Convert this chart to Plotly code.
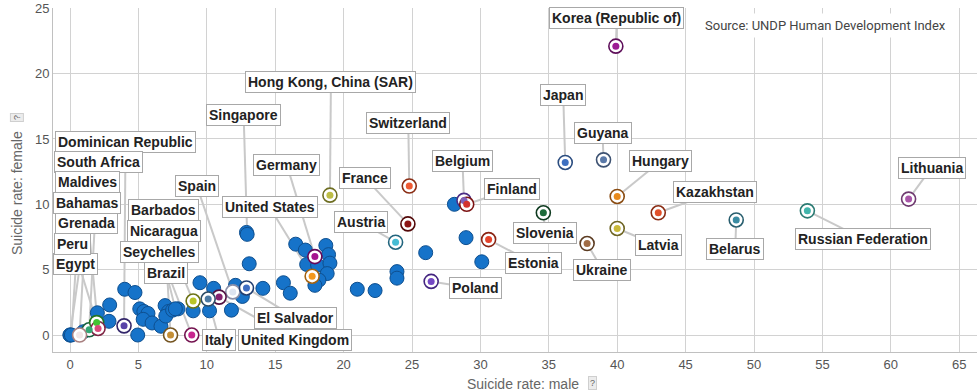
import plotly.graph_objects as go

# ---------------- data ----------------
# unlabeled countries (male, female suicide rates)
other_male = [0.0, 0.97, 2.0, 2.9, 2.85, 4.0, 4.75, 4.95, 5.1, 5.4, 5.7, 5.35, 6.0, 6.65,
              6.95, 7.2, 7.0, 7.5, 7.9, 9.5, 9.0, 10.2, 10.5, 12.1, 11.8, 12.6, 14.1,
              12.9, 13.1, 15.6, 16.1, 16.5, 17.2, 17.3, 18.1, 18.7, 18.9, 19.0, 18.8,
              18.2, 17.9, 21.0, 22.3, 23.9, 23.9, 26.0, 28.1, 28.95, 30.1]
other_female = [0.0, 0.25, 1.7, 2.3, 1.05, 3.5, 3.25, 0.0, 2.0, 1.8, 1.65, 1.2, 0.92, 0.67,
                2.25, 1.8, 1.45, 1.9, 2.0, 4.0, 1.85, 1.85, 3.57, 3.8, 1.9, 2.95, 3.57,
                7.85, 5.45, 4.0, 3.2, 6.95, 6.5, 5.4, 5.35, 6.85, 6.15, 5.5, 4.7,
                4.2, 3.8, 3.5, 3.4, 4.85, 4.35, 6.3, 10.0, 7.45, 5.6]

countries = ["Singapore", "Brazil", "Grenada", "Egypt",
             "Korea (Republic of)", "Japan", "Guyana", "Hungary", "Kazakhstan", "Lithuania",
             "Russian Federation", "Belarus", "Latvia", "Ukraine", "Slovenia", "Estonia",
             "Poland", "Belgium", "Finland", "Switzerland", "France", "Austria",
             "Hong Kong, China (SAR)", "United States", "Germany", "Spain", "El Salvador",
             "United Kingdom", "Italy", "Nicaragua", "Seychelles", "Barbados",
             "Dominican Republic", "South Africa", "Peru", "Bahamas", "Maldives"]
male = [12.95, 7.7, 0.0, 0.1,
        39.9, 36.2, 39.0, 40.0, 43.0, 61.3,
        53.9, 48.7, 40.0, 37.8, 34.6, 30.6,
        26.4, 28.8, 29.0, 24.8, 24.7, 23.8,
        19.0, 17.7, 17.9, 11.9, 12.9,
        10.9, 10.1, 9.0, 8.9, 7.35,
        3.95, 1.4, 1.95, 2.05, 0.7]
female = [7.7, 2.0, 0.0, 0.0,
          22.1, 13.2, 13.4, 10.6, 9.35, 10.4,
          9.5, 8.8, 8.15, 7.0, 9.35, 7.3,
          4.1, 10.3, 10.0, 11.4, 8.5, 7.1,
          10.7, 4.5, 6.0, 3.3, 3.6,
          2.9, 2.75, 2.6, 0.0, 0.0,
          0.7, 0.4, 0.95, 0.5, 0.0]

# ---------------- styles ----------------
BLUE = "#1673c9"
BLUE_EDGE = "#0e4f8f"
dot_colors = [None, None, None, None,
              "#9c1c94", "#3d6fc0", "#5a79a8", "#e88a1c", "#e2502a", "#a956a8",
              "#42b5ac", "#3a8ba2", "#c9b93a", "#a06c45", "#1d6b3a", "#e5432b",
              "#7448c4", "#8060b8", "#d3322e", "#ee5a33", "#8c1414", "#45bcd4",
              "#bdbd45", "#f3981d", "#a5138f", "#dde4f0", "#3e6dc2",
              "#85216f", "#4d7aa3", "#b9c428", "#c8258f", "#c48e35",
              "#5843a8", "#33a673", "#43c433", "#d8487a", "#f2e6e6"]
edge_colors = [None, None, None, None,
               "#5e0f5a", "#2b4d80", "#3d5272", "#8a4c12", "#8a2c14", "#6f3a70",
               "#2a7a72", "#285e6e", "#6e6522", "#5c3c22", "#0f3b20", "#8a2312",
               "#432580", "#4b2c85", "#7c1212", "#8a2d14", "#520808", "#22657e",
               "#6e6e22", "#a4620f", "#660a58", "#8a8fa8", "#213e70",
               "#511142", "#2d4c66", "#6c7214", "#741350", "#745420",
               "#33266a", "#18623f", "#237422", "#7f2645", "#a88080"]

# label box centre offsets (pixels) relative to the point
label_dx = [-3.5, -9, 16, 4.6,
            1, -2, -1, 43, 57, 23,
            56, -1, 41, 15, 2, 45,
            44, -1.5, 45, -1, -43, -35,
            1, -42.5, -28, -36, 49.5,
            76, 11, -29, -32, -7,
            1.5, 9, -24, -11.5, 8.4]
label_dy = [-119, -36, -112, -71,
            -28, -67, -27, -35, -21, -31.5,
            28, 29, 17, 26, 20, 23.5,
            7, -39, -15, -63, -46, -20,
            -113.5, -69, -91.5, -106, 30,
            42.5, 40.5, -70, -83, -125.5,
            -184, -168, -78.6, -125.5, -153]

FONT = "Liberation Sans, Arial, sans-serif"

fig = go.Figure()

# leader lines (below traces, above grid)
shapes = []
for m, f, dx, dy in zip(male, female, label_dx, label_dy):
    shapes.append(dict(type="line", xref="x", yref="y",
                       xsizemode="pixel", ysizemode="pixel",
                       xanchor=m, yanchor=f, x0=0, y0=0, x1=dx, y1=-dy,
                       line=dict(color="#c9c9c9", width=2), layer="between"))

# plain blue points
plain_m = other_male + [m for m, c in zip(male, dot_colors) if c is None]
plain_f = other_female + [f for f, c in zip(female, dot_colors) if c is None]
fig.add_trace(go.Scatter(x=plain_m, y=plain_f, mode="markers", hoverinfo="skip",
                         marker=dict(size=14, color=BLUE, line=dict(color=BLUE_EDGE, width=1)),
                         showlegend=False))

# highlighted ring points
hm = [m for m, c in zip(male, dot_colors) if c is not None]
hf = [f for f, c in zip(female, dot_colors) if c is not None]
hd = [c for c in dot_colors if c is not None]
he = [c for c in edge_colors if c is not None]
fig.add_trace(go.Scatter(x=hm, y=hf, mode="markers", hoverinfo="skip",
                         marker=dict(size=14, color="white", line=dict(color=he, width=1.6)),
                         showlegend=False))
fig.add_trace(go.Scatter(x=hm, y=hf, mode="markers", hoverinfo="skip",
                         marker=dict(size=7, color=hd, line=dict(width=0)),
                         showlegend=False))

annotations = []
for name, m, f, dx, dy in zip(countries, male, female, label_dx, label_dy):
    annotations.append(dict(x=m, y=f, xref="x", yref="y", ax=dx, ay=dy,
                            text="<b>" + name + "</b>", showarrow=True,
                            arrowcolor="rgba(0,0,0,0)", arrowwidth=0.1,
                            bgcolor="white", bordercolor="#a8a8a8", borderwidth=1,
                            borderpad=2,
                            font=dict(family=FONT, size=14, color="#222222")))

# axis titles and help boxes
annotations.append(dict(xref="paper", yref="paper", x=-0.039, y=0.462,
                        xanchor="center", yanchor="middle",
                        text="Suicide rate: female", textangle=-90, showarrow=False,
                        font=dict(family=FONT, size=14, color="#666666")))
annotations.append(dict(xref="paper", yref="paper", x=-0.039, y=0.683,
                        xanchor="center", yanchor="middle",
                        text="?", showarrow=False, bgcolor="#ececec", bordercolor="#cfcfcf",
                        borderwidth=1, borderpad=1, textangle=-90,
                        font=dict(family=FONT, size=9, color="#666666")))
annotations.append(dict(xref="paper", yref="paper", x=0.509, y=-0.093,
                        xanchor="center", yanchor="middle",
                        text="Suicide rate: male", showarrow=False,
                        font=dict(family=FONT, size=14, color="#666666")))
annotations.append(dict(xref="paper", yref="paper", x=0.584, y=-0.090,
                        xanchor="center", yanchor="middle",
                        text="?", showarrow=False, bgcolor="#ececec", bordercolor="#cfcfcf",
                        borderwidth=1, borderpad=1,
                        font=dict(family=FONT, size=9, color="#666666")))
annotations.append(dict(xref="paper", yref="paper", x=0.836, y=0.948,
                        xanchor="center", yanchor="middle",
                        text="Source: UNDP Human Development Index", showarrow=False,
                        bgcolor="white", borderpad=4,
                        font=dict(family="Liberation Sans Narrow, Roboto, sans-serif",
                                  size=13, color="#444444")))

fig.update_layout(
    width=977, height=392,
    margin=dict(l=53, r=0, t=8, b=40),
    paper_bgcolor="white", plot_bgcolor="white",
    shapes=shapes, annotations=annotations,
    xaxis=dict(range=[-1.243, 66.3], dtick=5, tick0=0, showgrid=True,
               gridcolor="#d2d2d2", gridwidth=1, zeroline=False,
               showline=True, linecolor="#c0c0c0", linewidth=1,
               tickfont=dict(family=FONT, size=13, color="#555555")),
    yaxis=dict(range=[-1.3, 25.02], dtick=5, tick0=0, showgrid=True,
               gridcolor="#d2d2d2", gridwidth=1, zeroline=False,
               showline=True, linecolor="#c0c0c0", linewidth=1,
               tickfont=dict(family=FONT, size=13, color="#555555")),
)

# remove the browser's default 8px body margin so the figure sits at the page origin
fig.write_html("out.html", config={"displayModeBar": False},
               post_script="document.body.style.margin='0';")
